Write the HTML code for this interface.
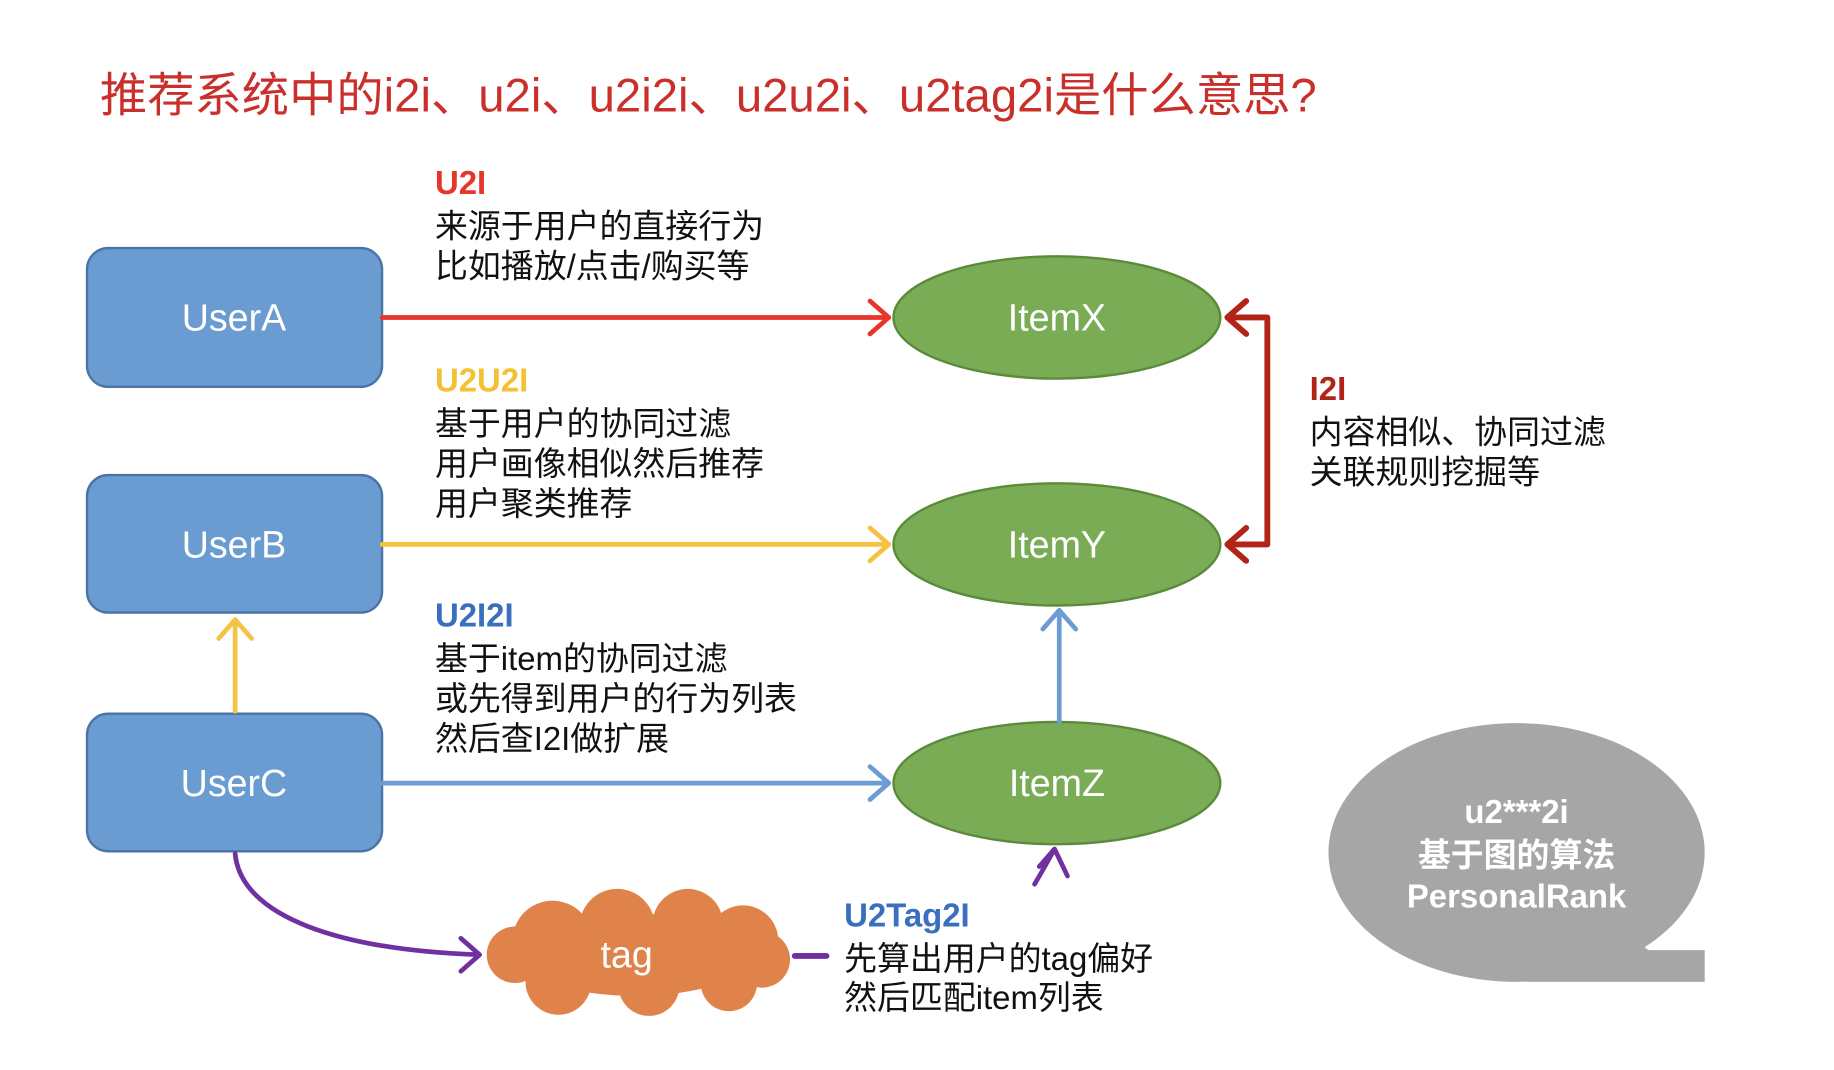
<!DOCTYPE html>
<html><head><meta charset="utf-8"><style>
html,body{margin:0;padding:0;background:#fff;}
svg{display:block;}
text{font-family:"Liberation Sans","Noto Sans CJK SC",sans-serif;}
</style></head><body>
<svg width="1834" height="1070" viewBox="0 0 1560 910" preserveAspectRatio="none" xmlns="http://www.w3.org/2000/svg">
<rect width="1560" height="910" fill="#fff"/>
<text x="85" y="95" font-size="40" fill="#c9302c" textLength="1035" lengthAdjust="spacingAndGlyphs">推荐系统中的i2i、u2i、u2i2i、u2u2i、u2tag2i是什么意思?</text>

<g fill="#6a9bd1" stroke="#4a74a6" stroke-width="2">
<rect x="74" y="211" width="251" height="118" rx="18"/>
<rect x="74" y="404" width="251" height="117" rx="18"/>
<rect x="74" y="607" width="251" height="117" rx="18"/>
</g>
<g fill="#fff" font-size="32" text-anchor="middle">
<text x="199" y="281">UserA</text>
<text x="199" y="474">UserB</text>
<text x="199" y="677">UserC</text>
</g>

<g fill="#7aab55" stroke="#5a8a3a" stroke-width="2">
<ellipse cx="899" cy="270" rx="139" ry="52"/>
<ellipse cx="899" cy="463" rx="139" ry="52"/>
<ellipse cx="899" cy="666" rx="139" ry="52"/>
</g>
<g fill="#fff" font-size="32" text-anchor="middle">
<text x="899" y="281">ItemX</text>
<text x="899" y="474">ItemY</text>
<text x="899" y="677">ItemZ</text>
</g>

<g fill="none" stroke-width="4" stroke-linecap="round" stroke-linejoin="round">
<path d="M325 270 H756 M740 256 L756 270 L740 284" stroke="#e8352a"/>
<path d="M325 463 H756 M740 449 L756 463 L740 477" stroke="#f5c242"/>
<path d="M325 666 H756 M740 652 L756 666 L740 680" stroke="#6d9bd4"/>
<path d="M200 605 V527 M186 543 L200 527 L214 543" stroke="#f5c242"/>
<path d="M901 614 V519 M887 535 L901 519 L915 535" stroke="#6d9bd4"/>
<path d="M1044 270 H1078 V463 H1044 M1060 256 L1044 270 L1060 284 M1060 449 L1044 463 L1060 477" stroke="#b22418" stroke-width="5"/>
<path d="M200 726 C205 780 290 808 408 812 M392 798 L408 812 L392 826" stroke="#7030a0"/>
<path d="M676 813 H703" stroke="#7030a0" stroke-width="5"/>
<path d="M880 752 Q890 735 897 722 M884 737 L897 722 L908 745" stroke="#7030a0"/>
</g>

<g fill="#e0834a">
<circle cx="470" cy="800" r="34"/>
<circle cx="525" cy="788" r="32"/>
<circle cx="585" cy="786" r="30"/>
<circle cx="632" cy="800" r="30"/>
<circle cx="648" cy="816" r="24"/>
<circle cx="620" cy="836" r="24"/>
<circle cx="552" cy="838" r="26"/>
<circle cx="475" cy="835" r="28"/>
<circle cx="438" cy="812" r="24"/>
<ellipse cx="540" cy="812" rx="100" ry="35"/>
</g>
<text x="533" y="823" fill="#fff" font-size="32" text-anchor="middle">tag</text>

<ellipse cx="1290" cy="725" rx="160" ry="110" fill="#a6a6a6"/>
<path d="M1380 790 L1402 808 H1450 V835 H1300 Z" fill="#a6a6a6"/>
<g fill="#fff" font-size="28" font-weight="bold" text-anchor="middle">
<text x="1290" y="700">u2***2i</text>
<text x="1290" y="737">基于图的算法</text>
<text x="1290" y="772">PersonalRank</text>
</g>

<g font-size="28" fill="#111">
<text x="370" y="165" fill="#e8352a" font-weight="bold">U2I</text>
<text x="370" y="202">来源于用户的直接行为</text>
<text x="370" y="236">比如播放/点击/购买等</text>

<text x="370" y="333" fill="#f2c234" font-weight="bold">U2U2I</text>
<text x="370" y="370">基于用户的协同过滤</text>
<text x="370" y="404">用户画像相似然后推荐</text>
<text x="370" y="438">用户聚类推荐</text>

<text x="370" y="533" fill="#3a6fbf" font-weight="bold">U2I2I</text>
<text x="370" y="570">基于item的协同过滤</text>
<text x="370" y="604">或先得到用户的行为列表</text>
<text x="370" y="638">然后查I2I做扩展</text>

<text x="1114" y="340" fill="#b22418" font-weight="bold">I2I</text>
<text x="1114" y="377">内容相似、协同过滤</text>
<text x="1114" y="411">关联规则挖掘等</text>

<text x="718" y="788" fill="#3a6fbf" font-weight="bold">U2Tag2I</text>
<text x="718" y="825">先算出用户的tag偏好</text>
<text x="718" y="858">然后匹配item列表</text>
</g>
</svg>
</body></html>
